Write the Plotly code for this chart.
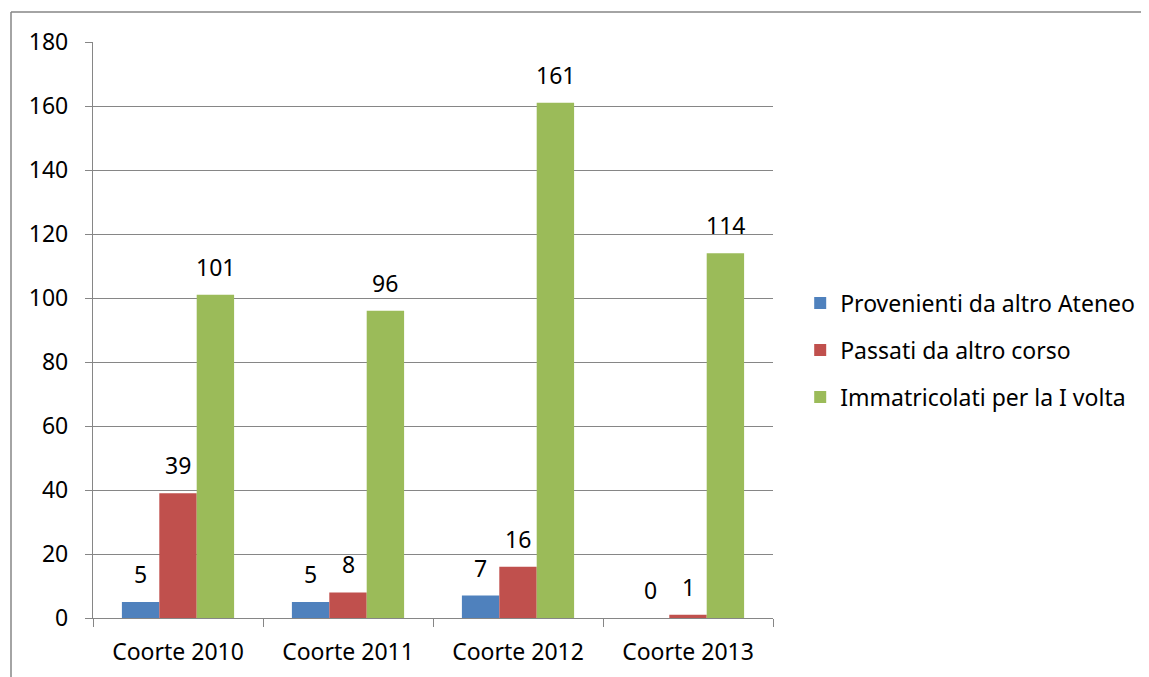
import plotly.graph_objects as go

categories = ["Coorte 2010", "Coorte 2011", "Coorte 2012", "Coorte 2013"]
provenienti = [5, 5, 7, 0]
passati = [39, 8, 16, 1]
immatricolati = [101, 96, 161, 114]

series = [
    ("Provenienti da altro Ateneo", provenienti, "#4F81BD"),
    ("Passati da altro corso", passati, "#C0504D"),
    ("Immatricolati per la I volta", immatricolati, "#9BBB59"),
]

FONT = "Noto Sans"
FS = 23
grid = "#868686"
BARGAP = 0.34
PLOT_W, PLOT_H = 680, 576

fig = go.Figure()
for i, (name, vals, col) in enumerate(series):
    fig.add_trace(go.Bar(
        x=categories, y=vals, name=name,
        marker=dict(color=col, line=dict(width=0)),
        cliponaxis=False, legendgroup=f"g{i}",
    ))

# data labels above each bar (Excel "outside end" style, lifted a bit)
bar_px = PLOT_W / len(categories) * (1 - BARGAP) / len(series)
for i, (name, vals, col) in enumerate(series):
    for cat, v in zip(categories, vals):
        fig.add_annotation(x=cat, y=v, text=str(v), showarrow=False,
                           xshift=(i - 1) * bar_px, yshift=10, yanchor="bottom",
                           font=dict(family=FONT, size=FS, color="#000000"))

# chart border (Excel chart area), partly outside the window
x_left = (11 - 93) / PLOT_W
y_top = (618 - 12) / PLOT_H
fig.add_shape(type="line", xref="paper", yref="paper", x0=x_left, x1=1.6, y0=y_top, y1=y_top,
              line=dict(color=grid, width=1.5))
fig.add_shape(type="line", xref="paper", yref="paper", x0=x_left, x1=x_left, y0=-0.2, y1=y_top,
              line=dict(color=grid, width=1.5))

fig.update_layout(
    width=1149, height=677,
    margin=dict(l=85, r=1149 - 85 - PLOT_W, t=34, b=677 - 34 - PLOT_H),
    paper_bgcolor="white", plot_bgcolor="white",
    font=dict(family=FONT, size=FS, color="#000000"),
    barmode="group", bargap=BARGAP, bargroupgap=0,
    showlegend=True,
    legend=dict(x=1.04, y=0.465, xanchor="left", yanchor="middle",
                traceorder="grouped", tracegroupgap=14,
                font=dict(family=FONT, size=FS), itemwidth=30),
    xaxis=dict(showline=True, linecolor=grid, linewidth=1.3,
               ticks="outside", tickson="boundaries", ticklen=8, tickcolor=grid, tickwidth=1.3,
               showgrid=False, tickfont=dict(size=FS), ticklabelstandoff=13),
    yaxis=dict(range=[0, 180], dtick=20, showline=True, linecolor=grid, linewidth=1.3,
               ticks="outside", ticklen=7, tickcolor=grid, tickwidth=1.3,
               showgrid=True, gridcolor=grid, gridwidth=1.3, zeroline=False,
               tickfont=dict(size=FS), ticklabelstandoff=12),
)

fig.write_html("out.html")
